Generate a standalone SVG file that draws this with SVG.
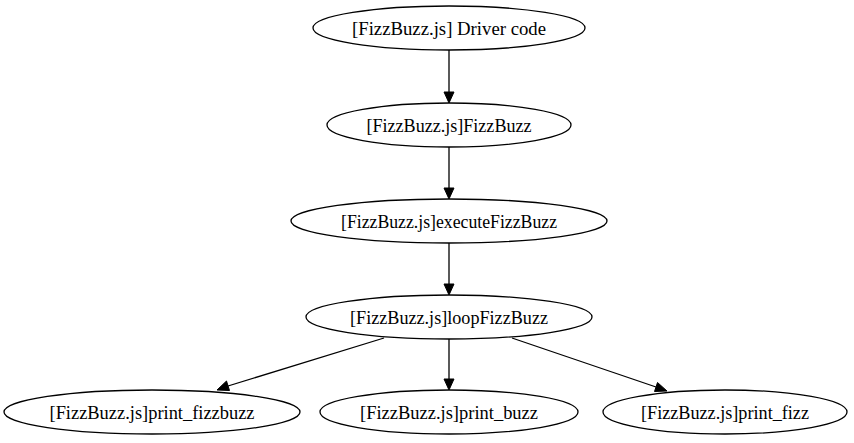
<svg xmlns="http://www.w3.org/2000/svg" width="854" height="443" viewBox="0 0 854 443">
<style>
.n ellipse{fill:none;stroke:#000;stroke-width:1.3}
.n text{font-family:"Liberation Serif","Times New Roman",serif;font-size:18.5px;text-anchor:middle;fill:#000}
.e{stroke:#000;stroke-width:1.3;fill:none}
.h{fill:#000;stroke:#000}
</style>
<rect width="854" height="443" fill="#fff"/>
<g id="connectors">
<line class="e" x1="449" y1="50" x2="449" y2="93"/>
<polygon class="h" points="444,92 449,103 454,92"/>
<line class="e" x1="449" y1="147" x2="449" y2="189"/>
<polygon class="h" points="444,188 449,199 454,188"/>
<line class="e" x1="449" y1="243" x2="449" y2="285"/>
<polygon class="h" points="444,284 449,295 454,284"/>
<line class="e" x1="384" y1="338" x2="228" y2="386"/>
<polygon class="h" points="226.5,381 217,390 229.5,390.5"/>
<line class="e" x1="449" y1="339" x2="449" y2="380"/>
<polygon class="h" points="444,379 449,390 454,379"/>
<line class="e" x1="512" y1="338" x2="656" y2="387"/>
<polygon class="h" points="654.5,391.5 667,391 657.5,382.5"/>
</g>
<g id="driver" class="n"><ellipse cx="449" cy="28" rx="136" ry="22"/><text x="449" y="34.5" textLength="194" lengthAdjust="spacingAndGlyphs">[FizzBuzz.js] Driver code</text></g>
<g id="fizzbuzz" class="n"><ellipse cx="449" cy="125" rx="122" ry="22"/><text x="449" y="131.5" textLength="165" lengthAdjust="spacingAndGlyphs">[FizzBuzz.js]FizzBuzz</text></g>
<g id="execute" class="n"><ellipse cx="449" cy="221" rx="158" ry="22"/><text x="449" y="227.5" textLength="216" lengthAdjust="spacingAndGlyphs">[FizzBuzz.js]executeFizzBuzz</text></g>
<g id="loop" class="n"><ellipse cx="449" cy="317" rx="143" ry="22"/><text x="449" y="323.5" textLength="198" lengthAdjust="spacingAndGlyphs">[FizzBuzz.js]loopFizzBuzz</text></g>
<g id="print_fizzbuzz" class="n"><ellipse cx="152" cy="412" rx="148" ry="22"/><text x="152" y="418.5" textLength="205" lengthAdjust="spacingAndGlyphs">[FizzBuzz.js]print_fizzbuzz</text></g>
<g id="print_buzz" class="n"><ellipse cx="449" cy="412" rx="129" ry="22"/><text x="449" y="418.5" textLength="178" lengthAdjust="spacingAndGlyphs">[FizzBuzz.js]print_buzz</text></g>
<g id="print_fizz" class="n"><ellipse cx="725" cy="412" rx="122" ry="22"/><text x="725" y="418.5" textLength="168" lengthAdjust="spacingAndGlyphs">[FizzBuzz.js]print_fizz</text></g>
</svg>
